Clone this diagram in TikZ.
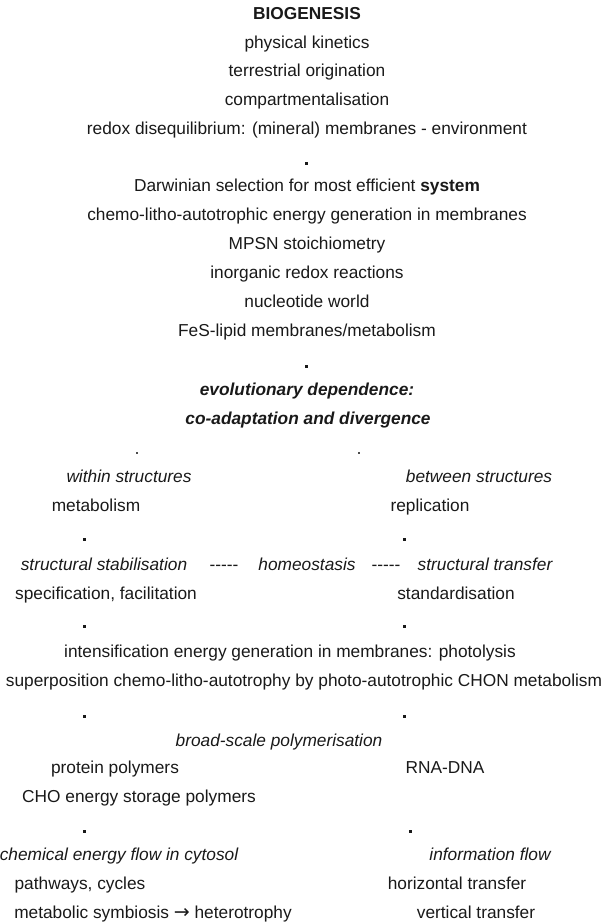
\documentclass[tikz,border=0pt]{standalone}
\usepackage{fontspec}
\setmainfont{Liberation Sans}
\newfontfamily\dvfont{DejaVu Sans}
\begin{document}
\begin{tikzpicture}[x=1pt,y=-1pt,
  txt/.style={font=\fontsize{17.3}{20}\selectfont, inner sep=0pt, text height=12pt, text depth=3.5pt, anchor=center, text=black!90},
  itx/.style={txt, font=\fontsize{17.3}{20}\selectfont\itshape},
  bix/.style={txt, font=\fontsize{17.3}{20}\selectfont\bfseries\itshape},
  bfx/.style={txt, font=\fontsize{17.3}{20}\selectfont\bfseries},
  sq/.style={fill=black!90, draw=none, inner sep=0pt, minimum size=3pt},
  sqs/.style={fill=black!70, draw=none, inner sep=0pt, minimum size=2.3pt}]
\useasboundingbox (0,0) rectangle (603,924);
% top column
\node[bfx] (bio) at (307,15) {BIOGENESIS};
\node[txt] (phy) at (307,44) {physical kinetics};
\node[txt] (ter) at (307,72) {terrestrial origination};
\node[txt] (com) at (307,101) {compartmentalisation};
\node[txt] (red) at (307,130) {redox disequilibrium: (mineral) membranes - environment};
\node[sq] (d1) at (306,163) {};
\node[txt] (dar) at (307,187) {Darwinian selection for most efficient \textbf{system}};
\node[txt] (che) at (307,216) {chemo-litho-autotrophic energy generation in membranes};
\node[txt] (mps) at (307,245) {MPSN stoichiometry};
\node[txt] (ino) at (307,274) {inorganic redox reactions};
\node[txt] (nuc) at (307,303) {nucleotide world};
\node[txt] (fes) at (307,332) {FeS-lipid membranes/metabolism};
\node[sq] (d2) at (306,366) {};
\node[bix] (evo) at (307,391) {evolutionary dependence:};
\node[bix] (coa) at (308,420) {co-adaptation and divergence};
\node[sqs] (d3l) at (137,453) {};
\node[sqs] (d3r) at (359,453) {};
% two branches
\node[itx] (wit) at (129,478) {within structures};
\node[itx] (bet) at (479,478) {between structures};
\node[txt] (met) at (96,507) {metabolism};
\node[txt] (rep) at (430,507) {replication};
\node[sq] (d4l) at (84,539) {};
\node[sq] (d4r) at (404,539) {};
\node[itx] (sst) at (104,566) {structural stabilisation};
\node[txt] (da1) at (224,566) {-{}-{}-{}-{}-};
\node[itx] (hom) at (307,566) {homeostasis};
\node[txt] (da2) at (386,566) {-{}-{}-{}-{}-};
\node[itx] (str) at (485,566) {structural transfer};
\node[txt] (spe) at (106,595) {specification, facilitation};
\node[txt] (sta) at (456,595) {standardisation};
\node[sq] (d5l) at (84,626) {};
\node[sq] (d5r) at (404,626) {};
\node[txt] (int) at (290,653) {intensification energy generation in membranes: photolysis};
\node[txt] (sup) at (304,682) {superposition chemo-litho-autotrophy by photo-autotrophic CHON metabolism};
\node[sq] (d6l) at (84,716) {};
\node[sq] (d6r) at (404,716) {};
\node[itx] (bro) at (279,742) {broad-scale polymerisation};
\node[txt] (pro) at (115,769) {protein polymers};
\node[txt] (rna) at (445,769) {RNA-DNA};
\node[txt] (cho) at (139,798) {CHO energy storage polymers};
\node[sq] (d7l) at (84,831) {};
\node[sq] (d7r) at (410,831) {};
\node[itx] (cef) at (119,856) {chemical energy flow in cytosol};
\node[itx] (inf) at (490,856) {information flow};
\node[txt] (pat) at (80,885) {pathways, cycles};
\node[txt] (hor) at (457,885) {horizontal transfer};
\node[txt] (mbs) at (153,914) {metabolic symbiosis {\dvfont\fontsize{19}{20}\selectfont\raisebox{-0.5pt}{→}} heterotrophy};
\node[txt] (ver) at (476,914) {vertical transfer};
\end{tikzpicture}
\end{document}
